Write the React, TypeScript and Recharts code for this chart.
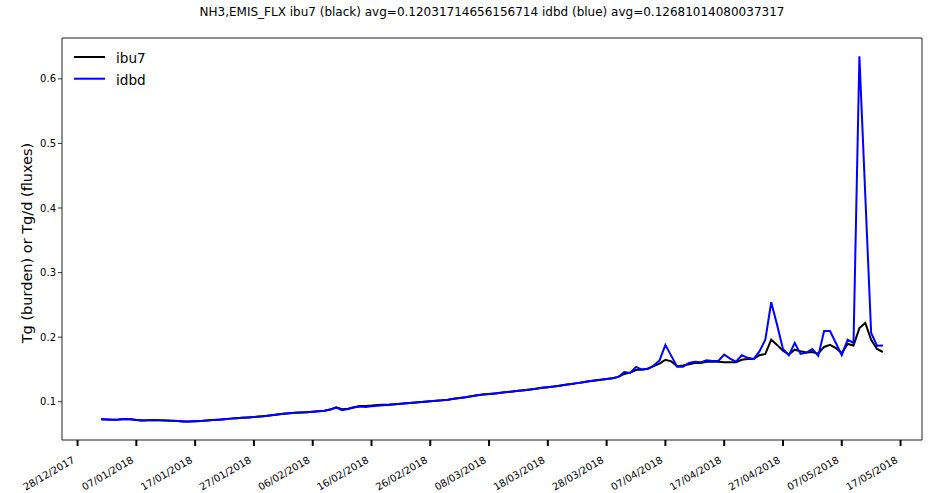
import React from 'react';
import { LineChart, Line, XAxis, YAxis, Legend, Label, ReferenceLine } from 'recharts';

// day 0 = 28/12/2017, series are daily from 01/01/2018
const firstDay = 4;

const ibu7 = [
  0.0730, 0.0725, 0.0722, 0.0726, 0.0733, 0.0728, 0.0718, 0.0710, 0.0712, 0.0715,
  0.0712, 0.0709, 0.0705, 0.0700, 0.0694, 0.0692, 0.0697, 0.0702, 0.0708, 0.0715,
  0.0722, 0.0730, 0.0738, 0.0745, 0.0752, 0.0757, 0.0762, 0.0770, 0.0780, 0.0792,
  0.0803, 0.0813, 0.0822, 0.0828, 0.0833, 0.0838, 0.0845, 0.0852, 0.0860, 0.0880,
  0.0912, 0.0885, 0.0892, 0.0915, 0.0932, 0.0935, 0.0940, 0.0948, 0.0952, 0.0955,
  0.0962, 0.0970, 0.0978, 0.0985, 0.0993, 0.1000, 0.1008, 0.1015, 0.1022, 0.1032,
  0.1045, 0.1058, 0.1070, 0.1085, 0.1100, 0.1112, 0.1120, 0.1128, 0.1138, 0.1150,
  0.1158, 0.1168, 0.1178, 0.1190, 0.1202, 0.1215, 0.1225, 0.1235, 0.1248, 0.1262,
  0.1275, 0.1288, 0.1302, 0.1318, 0.1330, 0.1340, 0.1352, 0.1365, 0.1385, 0.1430,
  0.1450, 0.1490, 0.1500, 0.1510, 0.1550, 0.1590, 0.1650, 0.1625, 0.1550, 0.1560,
  0.1580, 0.1600, 0.1600, 0.1620, 0.1620, 0.1620, 0.1610, 0.1610, 0.1610, 0.1650,
  0.1660, 0.1660, 0.1720, 0.1740, 0.1960, 0.1880, 0.1790, 0.1730, 0.1806, 0.1780,
  0.1764, 0.1770, 0.1744, 0.1848, 0.1880, 0.1830, 0.1755, 0.1894, 0.1870, 0.2140,
  0.2220, 0.1960, 0.1817, 0.1770,
];

const idbd = [
  0.0730, 0.0725, 0.0722, 0.0726, 0.0733, 0.0728, 0.0718, 0.0710, 0.0712, 0.0715,
  0.0712, 0.0709, 0.0705, 0.0700, 0.0694, 0.0692, 0.0697, 0.0702, 0.0708, 0.0715,
  0.0722, 0.0730, 0.0738, 0.0745, 0.0752, 0.0757, 0.0762, 0.0770, 0.0780, 0.0792,
  0.0803, 0.0813, 0.0822, 0.0828, 0.0833, 0.0838, 0.0845, 0.0852, 0.0860, 0.0878,
  0.0908, 0.0868, 0.0885, 0.0910, 0.0925, 0.0920, 0.0928, 0.0938, 0.0945, 0.0950,
  0.0962, 0.0970, 0.0978, 0.0985, 0.0993, 0.1000, 0.1008, 0.1015, 0.1022, 0.1032,
  0.1045, 0.1058, 0.1070, 0.1085, 0.1100, 0.1112, 0.1120, 0.1128, 0.1138, 0.1150,
  0.1158, 0.1168, 0.1178, 0.1190, 0.1202, 0.1215, 0.1225, 0.1235, 0.1248, 0.1262,
  0.1275, 0.1288, 0.1302, 0.1318, 0.1330, 0.1340, 0.1352, 0.1365, 0.1385, 0.1460,
  0.1445, 0.1540, 0.1496, 0.1510, 0.1560, 0.1640, 0.1880, 0.1710, 0.1540, 0.1540,
  0.1600, 0.1620, 0.1610, 0.1640, 0.1630, 0.1630, 0.1730, 0.1667, 0.1620, 0.1720,
  0.1680, 0.1660, 0.1780, 0.1960, 0.2540, 0.2190, 0.1817, 0.1720, 0.1910, 0.1740,
  0.1760, 0.1817, 0.1710, 0.2096, 0.2096, 0.1910, 0.1720, 0.1960, 0.1910, 0.6350,
  0.4200, 0.2065, 0.1868, 0.1870,
];

const dateLabels = [
  '28/12/2017', '07/01/2018', '17/01/2018', '27/01/2018', '06/02/2018',
  '16/02/2018', '26/02/2018', '08/03/2018', '18/03/2018', '28/03/2018',
  '07/04/2018', '17/04/2018', '27/04/2018', '07/05/2018', '17/05/2018',
];
const dateTicks = dateLabels.map((_, i) => i * 10);
const yTicks = [0.1, 0.2, 0.3, 0.4, 0.5, 0.6];

const title =
  'NH3,EMIS_FLX ibu7 (black) avg=0.12031714656156714 idbd (blue) avg=0.12681014080037317';

const data = ibu7.map((v, i) => ({ day: firstDay + i, ibu7: v, idbd: idbd[i] }));

// axis limits (5% padding around the data, like the plotting default)
const xDomain = [-2.65, 143.65];
const yDomain = [0.0407, 0.6633];

const FONT = '"DejaVu Sans", sans-serif';

const DateTick = (props: any) => {
  const { x, y, payload } = props;
  const tx = x - 2;
  const ty = y + 14;
  return (
    <text
      x={tx}
      y={ty}
      transform={`rotate(-30, ${tx}, ${ty})`}
      textAnchor="end"
      fontSize={10}
      fontFamily={FONT}
      fill="#000"
    >
      {dateLabels[Math.round(payload.value / 10)]}
    </text>
  );
};

const LegendBox = () => (
  <svg width={100} height={48}>
    <line x1={0} y1={12} x2={31} y2={12} stroke="#000" strokeWidth={2} />
    <text x={42} y={18} fontSize={13.6} fontFamily={FONT} fill="#000">ibu7</text>
    <line x1={0} y1={33.7} x2={31} y2={33.7} stroke="#0000ff" strokeWidth={2} />
    <text x={42} y={39.5} fontSize={13.6} fontFamily={FONT} fill="#000">idbd</text>
  </svg>
);

export default function App() {
  return (
    <div
      style={{
        position: 'absolute',
        left: 0,
        top: 0,
        width: 931,
        height: 493,
        background: '#fff',
        fontFamily: FONT,
      }}
    >
      <div
        style={{
          position: 'absolute',
          left: 62,
          top: 5,
          width: 860,
          textAlign: 'center',
          fontSize: 12,
          lineHeight: '14px',
          color: '#000',
          whiteSpace: 'nowrap',
        }}
      >
        {title}
      </div>
      <LineChart width={931} height={493} data={data} margin={{ top: 38, right: 9, bottom: 0, left: 0 }}>
        <XAxis
          type="number"
          dataKey="day"
          domain={xDomain}
          allowDataOverflow
          ticks={dateTicks}
          interval={0}
          height={53}
          tickSize={6}
          tickMargin={2}
          tick={<DateTick />}
          axisLine={{ stroke: '#222' }}
          tickLine={{ stroke: '#000', strokeWidth: 2 }}
        />
        <YAxis
          type="number"
          domain={yDomain}
          allowDataOverflow
          ticks={yTicks}
          interval={0}
          width={62}
          tickSize={4}
          tickMargin={2}
          tickFormatter={(v: number) => v.toFixed(1)}
          tick={{ fontSize: 10, fontFamily: FONT, fill: '#000' }}
          axisLine={{ stroke: '#222' }}
          tickLine={{ stroke: '#333' }}
        >
          <Label
            content={() => (
              <text
                x={27}
                y={243}
                transform="rotate(-90, 27, 243)"
                textAnchor="middle"
                dominantBaseline="central"
                fontSize={14.5}
                fontFamily={FONT}
                fill="#000"
              >
                Tg (burden) or Tg/d (fluxes)
              </text>
            )}
          />
        </YAxis>
        {/* top and right edges of the frame */}
        <ReferenceLine y={yDomain[1]} stroke="#222" strokeWidth={1} />
        <ReferenceLine x={xDomain[1]} stroke="#222" strokeWidth={1} />
        <Line
          dataKey="ibu7"
          stroke="#000"
          strokeWidth={2}
          dot={false}
          activeDot={false}
          isAnimationActive={false}
        />
        <Line
          dataKey="idbd"
          stroke="#0000ff"
          strokeWidth={2}
          dot={false}
          activeDot={false}
          isAnimationActive={false}
        />
        <Legend
          layout="vertical"
          align="center"
          verticalAlign="middle"
          content={<LegendBox />}
          wrapperStyle={{ top: 45, left: 74, width: 100, height: 48 }}
        />
      </LineChart>
    </div>
  );
}
